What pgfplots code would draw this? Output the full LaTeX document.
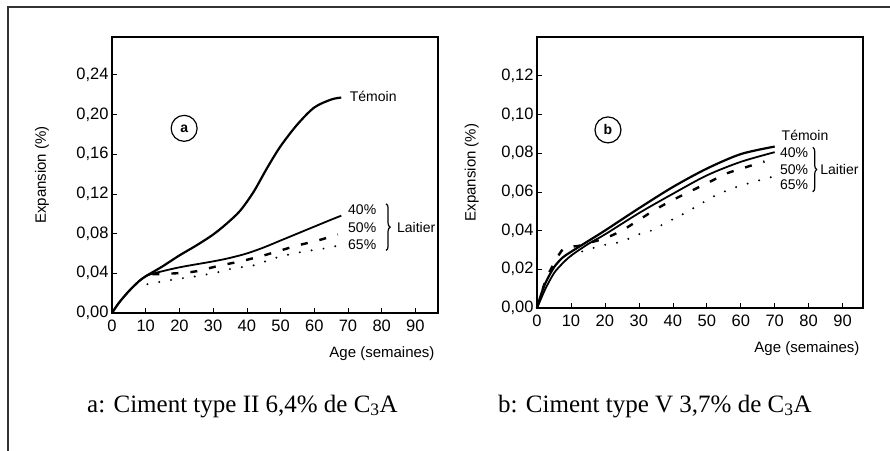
\documentclass[border=0pt]{standalone}
\usepackage{fontspec}
\setmainfont{Liberation Sans}
\newfontfamily\capfont{Liberation Serif}
\usepackage{pgfplots}
\pgfplotsset{compat=1.18}
\usetikzlibrary{decorations.pathreplacing}

\tikzset{lab/.style={font=\fontsize{14}{16}\selectfont, anchor=west, inner sep=0pt}}
\newcommand\tickfont{\fontsize{16.5}{18}\selectfont}
\pgfplotsset{
  expstyle/.style={
    scale only axis,
    xmin=0, ymin=0,
    xtick={0,10,20,30,40,50,60,70,80,90},
    xtick pos=left, ytick pos=left,
    tick align=inside,
    major tick length=5pt,
    tick style={black, line width=0.6pt},
    axis line style={line width=1.4pt},
    xticklabel={\tickfont\pgfmathprintnumber[assume math mode=true]{\tick}},
    yticklabel={\tickfont\pgfmathprintnumber[assume math mode=true, fixed, fixed zerofill, precision=2, use comma]{\tick}},
    xticklabel style={yshift=-3pt},
    xlabel={Age (semaines)},
    xlabel style={at={(rel axis cs:1,0)}, anchor=north east, yshift=-30pt, font=\fontsize{15}{17}\selectfont},
    ylabel={Expansion (\%)},
    ylabel style={anchor=center, font=\fontsize{15}{17}\selectfont},
    clip=false,
    every axis plot/.append style={black, smooth},
  },
  temoin/.style={line width=2.2pt},
  l40/.style={line width=1.8pt},
  l50/.style={line width=2.4pt, dash pattern=on 7pt off 12pt},
  l65/.style={line width=2.2pt, line cap=round, dash pattern=on 0pt off 12pt},
}

\begin{document}
\begin{tikzpicture}[x=1pt,y=1pt]
\useasboundingbox (0,0) rectangle (890,450);
\draw[line width=2pt, black!80] (8,-5) -- (8,443) -- (895,443);

% ---- a: ciment type II ----
\begin{axis}[expstyle,
  at={(112pt,137pt)}, anchor=south west,
  width=326pt, height=276pt,
  xmax=96.7, ymax=0.278,
  ytick={0,0.04,0.08,0.12,0.16,0.20,0.24},
  ylabel style={at={(axis description cs:-0.215,0.5)}},
]
\addplot[temoin] coordinates {(0,0) (2,0.010) (5,0.022) (8,0.032) (10,0.037) (12.5,0.042) (15,0.047) (20,0.058) (25,0.068) (30,0.079) (34,0.090) (38,0.103) (42,0.122) (46,0.146) (50,0.168) (55,0.190) (60,0.207) (65,0.215) (68,0.217)};
\addplot[l40] coordinates {(0,0) (2,0.010) (5,0.022) (8,0.032) (10,0.037) (12.5,0.040) (20,0.046) (30,0.052) (35,0.0555) (40,0.060) (45,0.066) (50,0.073) (55,0.080) (60,0.087) (65,0.094) (68,0.098)};
\addplot[l50] coordinates {(12,0.039) (19,0.040) (25,0.042) (31,0.047) (38,0.052) (44,0.057) (50,0.063) (55,0.068) (61,0.073) (67,0.079)};
\addplot[l65] coordinates {(10.5,0.029) (17,0.033) (23,0.036) (30,0.040) (36,0.045) (42,0.048) (48,0.055) (54,0.060) (59,0.063) (63,0.065) (68,0.0685)};
\node[lab] at (axis cs:70.5,0.218) {Témoin};
\node[lab] at (axis cs:70,0.104) {40\%};
\node[lab] at (axis cs:70,0.086) {50\%};
\node[lab] at (axis cs:70,0.069) {65\%};
\draw[decorate, decoration={brace, amplitude=4pt}, line width=1.2pt] (axis cs:81.3,0.110) -- (axis cs:81.3,0.063);
\node[lab] at (axis cs:84.5,0.086) {Laitier};
\node[circle, draw, line width=1.2pt, minimum size=26pt, inner sep=0pt, font=\fontsize{14}{16}\selectfont\bfseries] at (axis cs:21.4,0.186) {a};
\end{axis}

% ---- b: ciment type V ----
\begin{axis}[expstyle,
  at={(537pt,142pt)}, anchor=south west,
  width=326pt, height=271pt,
  xmax=96, ymax=0.14,
  ytick={0,0.02,0.04,0.06,0.08,0.10,0.12},
  ylabel style={at={(axis description cs:-0.2,0.5)}},
]
\addplot[temoin] coordinates {(0,0) (1,0.006) (2.5,0.013) (5,0.021) (7.5,0.026) (10,0.029) (15,0.0345) (20,0.040) (30,0.0515) (40,0.0625) (50,0.072) (60,0.0795) (70,0.0834)};
\addplot[l40] coordinates {(0,0) (1,0.004) (2.5,0.010) (5,0.018) (7.5,0.023) (10,0.027) (15,0.033) (20,0.038) (30,0.049) (40,0.059) (50,0.0685) (60,0.0755) (70,0.0805)};
\addplot[l50] coordinates {(0,0) (2.5,0.014) (5,0.023) (8,0.031) (12,0.032) (16,0.034) (20,0.036) (25,0.040) (30,0.0455) (35,0.051) (40,0.0558) (46,0.061) (51,0.0653) (56,0.0696) (62,0.073) (67,0.0757)};
\addplot[l65] coordinates {(10,0.027) (14.6,0.030) (20,0.0326) (25,0.0343) (29.3,0.0377) (34.2,0.0403) (37.6,0.0438) (41.6,0.0472) (46,0.0515) (51.9,0.0575) (57.7,0.0619) (64.1,0.0653) (69.5,0.0679)};
\node[lab] at (axis cs:72,0.0894) {Témoin};
\node[lab] at (axis cs:71.5,0.080) {40\%};
\node[lab] at (axis cs:71.5,0.0713) {50\%};
\node[lab] at (axis cs:71.5,0.0636) {65\%};
\draw[decorate, decoration={brace, amplitude=4pt}, line width=1.2pt] (axis cs:81.2,0.083) -- (axis cs:81.2,0.060);
\node[lab] at (axis cs:83.4,0.0713) {Laitier};
\node[circle, draw, line width=1.2pt, minimum size=26pt, inner sep=0pt, font=\fontsize{14}{16}\selectfont\bfseries] at (axis cs:20.9,0.092) {b};
\end{axis}

\node[anchor=base west, inner sep=0pt, font=\capfont\fontsize{25}{30}\selectfont] at (87,38) {a: Ciment type II 6,4\% de C\textsubscript{3}A};
\node[anchor=base west, inner sep=0pt, font=\capfont\fontsize{25}{30}\selectfont] at (498,38) {b: Ciment type V 3,7\% de C\textsubscript{3}A};
\end{tikzpicture}
\end{document}
